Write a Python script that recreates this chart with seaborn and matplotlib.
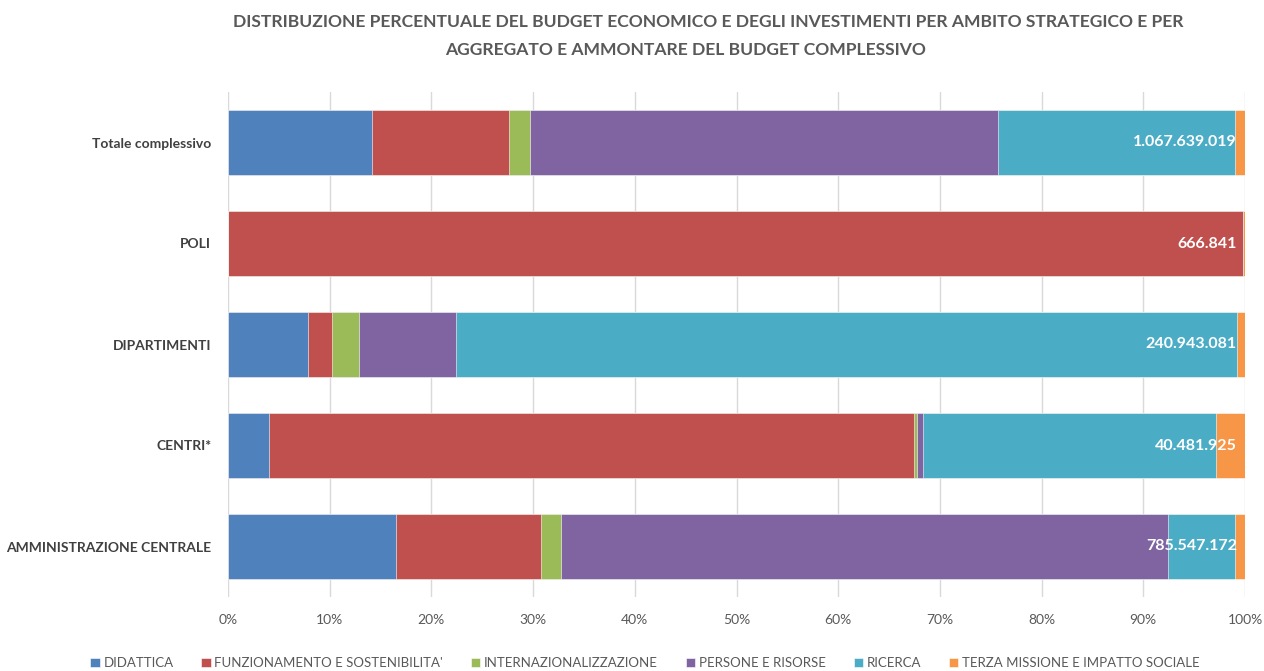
import numpy as np
import pandas as pd
import matplotlib
matplotlib.use("Agg")
import matplotlib.pyplot as plt
import seaborn as sns

# ---- data (percent share per strategic area) ----
categories = ["Totale complessivo", "POLI", "DIPARTIMENTI", "CENTRI*", "AMMINISTRAZIONE CENTRALE"]
series_names = ["DIDATTICA", "FUNZIONAMENTO E SOSTENIBILITA'", "INTERNAZIONALIZZAZIONE",
                "PERSONE E RISORSE", "RICERCA", "TERZA MISSIONE E IMPATTO SOCIALE"]
didattica = [14.2, 0.0, 7.9, 4.0, 16.5]
funzionamento = [13.4, 99.8, 2.3, 63.5, 14.3]
internazionalizzazione = [2.1, 0.0, 2.7, 0.2, 1.9]
persone = [46.0, 0.0, 9.5, 0.6, 59.7]
ricerca = [23.3, 0.0, 76.8, 28.8, 6.6]
terza_missione = [1.0, 0.2, 0.8, 2.9, 1.0]
budget_labels = ["1.067.639.019", "666.841", "240.943.081", "40.481.925", "785.547.172"]

colors = ["#4F81BD", "#C0504D", "#9BBB59", "#8064A2", "#4BACC6", "#F79646"]

sns.set_theme(style="white")
plt.rcParams["font.family"] = ["Lato", "DejaVu Sans"]

values = np.array([didattica, funzionamento, internazionalizzazione, persone, ricerca, terza_missione])
cum = values.cumsum(axis=0)

fig = plt.figure(figsize=(12.64, 6.71), dpi=100)
ax = fig.add_axes([228 / 1264, 1 - 597 / 671, (1245 - 228) / 1264, (597 - 92) / 671])

# stacked bars: draw cumulative totals from last series to first
for i in range(len(series_names) - 1, -1, -1):
    df = pd.DataFrame({"cat": categories, "val": cum[i]})
    sns.barplot(data=df, x="val", y="cat", orient="h", color=colors[i],
                saturation=1, width=0.635, edgecolor="white", linewidth=0.4,
                ax=ax, label=series_names[i])

for j, lab in enumerate(budget_labels):
    ax.text(99.2, j, lab, ha="right", va="center", color="white",
            fontsize=11.5, fontweight="bold")

ax.set_xlim(0, 100)
ax.set_ylim(4.5, -0.5)
ax.set_xticks(np.arange(0, 101, 10))
ax.set_xticklabels([f"{t}%" for t in range(0, 101, 10)], color="#595959", fontsize=10)
ax.tick_params(axis="x", length=0, pad=12)
ax.tick_params(axis="y", length=0, pad=12)
for t in ax.get_yticklabels():
    t.set_fontweight("bold")
    t.set_fontsize(10)
    t.set_color("#404040")
ax.set_xlabel("")
ax.set_ylabel("")
ax.grid(axis="x", color="#D9D9D9", linewidth=1)
ax.set_axisbelow(True)
for s in ax.spines.values():
    s.set_visible(False)

handles, labels = ax.get_legend_handles_labels()
handles, labels = handles[::-1], labels[::-1]
leg = fig.legend(handles, labels, loc="center", bbox_to_anchor=(645 / 1264, 1 - 663 / 671),
                 ncol=6, frameon=False, fontsize=9.5, handlelength=0.7, handleheight=0.7,
                 handletextpad=0.3, columnspacing=2.1)
for t in leg.get_texts():
    t.set_color("#595959")
if ax.get_legend() is not None:
    ax.get_legend().remove()

title_kw = dict(ha="center", va="center", fontsize=12.6, fontweight="bold", color="#595959")
fig.text(708 / 1264, 1 - 22 / 671,
         "DISTRIBUZIONE PERCENTUALE DEL BUDGET ECONOMICO E DEGLI INVESTIMENTI PER AMBITO STRATEGICO E PER",
         **title_kw)
fig.text(686 / 1264, 1 - 50 / 671,
         "AGGREGATO E AMMONTARE DEL BUDGET COMPLESSIVO", **title_kw)

fig.savefig("out.png", dpi=100)
